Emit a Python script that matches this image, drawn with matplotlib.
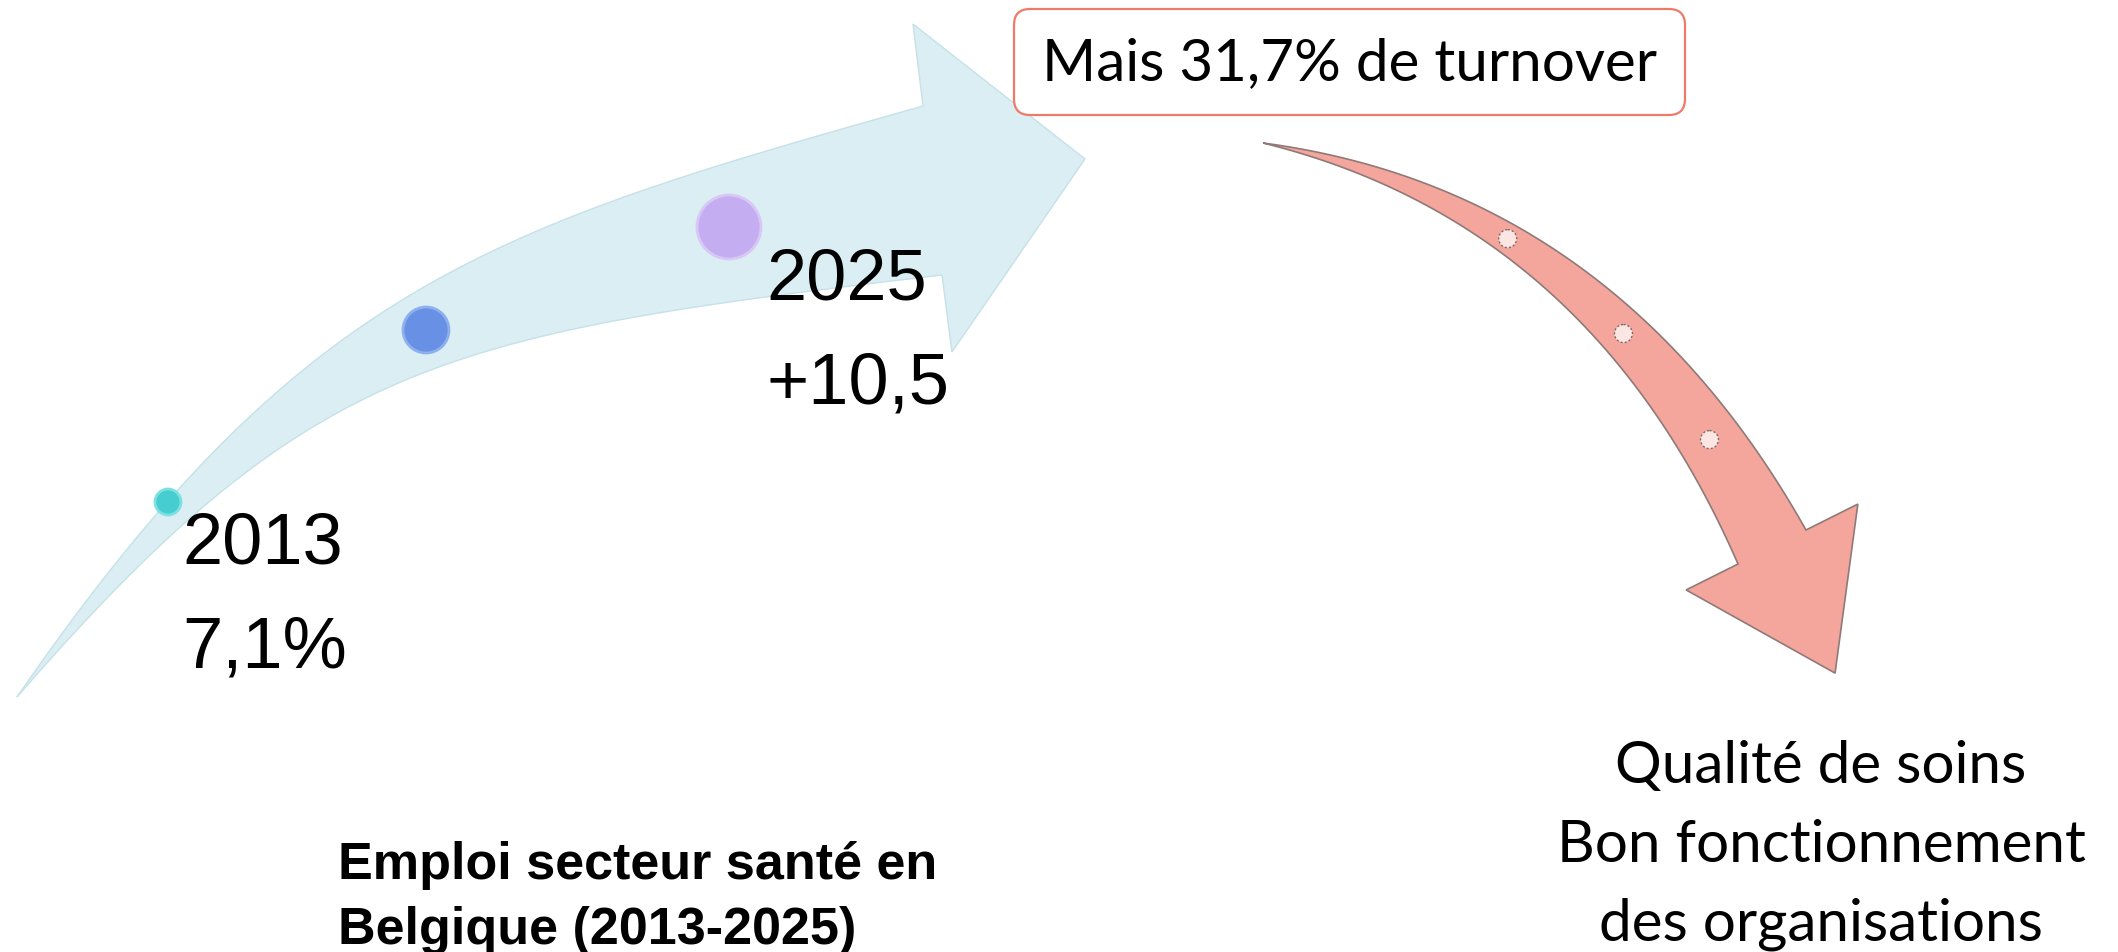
import numpy as np
import matplotlib.pyplot as plt
from matplotlib.patches import Polygon, Circle, FancyBboxPatch

# canvas is laid out in pixel units of the 2118 x 953 picture (y grows downward)
W, H = 2118, 953

# ---- growth arrow (employment 2013 -> 2025) ----
blue_upper = [(17, 698), (301, 286), (490, 229), (923, 107)]
blue_lower = [(17, 698), (312, 358), (446, 335), (942, 276)]
blue_head = [(913, 25), (1085, 160), (952, 353)]
blue_dot_xy = [(168, 503), (426, 331), (729, 228)]
blue_dot_r = [13, 23, 32]
blue_dot_fill = ['#45cdd0', '#6890e4', '#c5adf2']
blue_dot_edge = ['#7fe0e2', '#8fb0ee', '#d8c8f6']

year_labels = ['2013', '2025']
year_values = ['7,1%', '+10,5']
label_xy = [(182, 564), (766, 300)]

# ---- falling arrow (turnover) ----
red_ctrl = [(1263, 144), (1490, 187), (1659, 322), (1772, 548)]
red_shaft_hw, red_head_hw, red_head_len = 38, 96, 141
red_dot_t = [0.40, 0.63, 0.83]

turnover_text = 'Mais 31,7% de turnover'
outcome_lines = ['Qualité de soins', 'Bon fonctionnement', 'des organisations']
caption_lines = ['Emploi secteur santé en', 'Belgique (2013-2025)']


def bezier(ctrl, t):
    p0, p1, p2, p3 = [np.asarray(p, float) for p in ctrl]
    t = np.asarray(t, float)[:, None]
    pts = ((1 - t) ** 3 * p0 + 3 * t * (1 - t) ** 2 * p1
           + 3 * t ** 2 * (1 - t) * p2 + t ** 3 * p3)
    d = (3 * (1 - t) ** 2 * (p1 - p0) + 6 * t * (1 - t) * (p2 - p1)
         + 3 * t ** 2 * (p3 - p2))
    d = d / np.linalg.norm(d, axis=1, keepdims=True)
    return pts, d


def arrow_outline(ctrl, shaft_hw, head_hw, head_len, n=200):
    t = np.linspace(0, 1, n)
    pts, d = bezier(ctrl, t)
    nrm = np.column_stack([-d[:, 1], d[:, 0]])
    hw = shaft_hw * t[:, None]
    side_a = pts + nrm * hw
    side_b = pts - nrm * hw
    base, T, N = pts[-1], d[-1], nrm[-1]
    head = [base + N * head_hw, base + T * head_len, base - N * head_hw]
    return np.vstack([side_a, head, side_b[::-1]])


fig = plt.figure(figsize=(W / 100, H / 100), dpi=100)
ax = fig.add_axes([0, 0, 1, 1])
ax.set_xlim(0, W)
ax.set_ylim(H, 0)
ax.axis('off')

# blue arrow: two edge curves joined by the head
t = np.linspace(0, 1, 200)
up, _ = bezier(blue_upper, t)
lo, _ = bezier(blue_lower, t)
outline = np.vstack([up, blue_head, lo[::-1]])
ax.add_patch(Polygon(outline, closed=True, facecolor='#daeef3',
                     edgecolor='#c6e1e9', lw=1.0))
for (x, y), r, fc, ec in zip(blue_dot_xy, blue_dot_r, blue_dot_fill, blue_dot_edge):
    ax.add_patch(Circle((x, y), r, facecolor=fc, edgecolor=ec, lw=2.0, zorder=3))

for (x, y), yr, val in zip(label_xy, year_labels, year_values):
    ax.text(x, y, yr, fontsize=52, family='Liberation Sans', va='baseline', ha='left')
    ax.text(x, y + 104, val, fontsize=52, family='Liberation Sans', va='baseline', ha='left')

# red arrow
ax.add_patch(Polygon(arrow_outline(red_ctrl, red_shaft_hw, red_head_hw, red_head_len),
                     closed=True, facecolor='#f4a69c', edgecolor='#8e7a78', lw=1.2))
pts, _ = bezier(red_ctrl, red_dot_t)
for x, y in pts:
    ax.add_patch(Circle((x, y), 9, facecolor='#fbe6e4', edgecolor='#7a6a6a',
                        lw=1.0, linestyle=(0, (1.5, 1.5)), zorder=3))

# turnover box
ax.add_patch(FancyBboxPatch((1014, 10), 671, 106,
                            boxstyle='round,pad=0,rounding_size=16',
                            facecolor='white', edgecolor='#ef7a68', lw=1.6))
ax.text(1349, 64, turnover_text, fontsize=42, family='Lato',
        ha='center', va='center')

# outcomes
for i, line in enumerate(outcome_lines):
    ax.text(1821, 783 + 79 * i, line, fontsize=42, family='Lato',
            ha='center', va='baseline')

# caption
for i, line in enumerate(caption_lines):
    ax.text(338, 879 + 65 * i, line, fontsize=37.5, family='Liberation Sans',
            fontweight='bold', ha='left', va='baseline')

fig.savefig('out.png', dpi=100)
